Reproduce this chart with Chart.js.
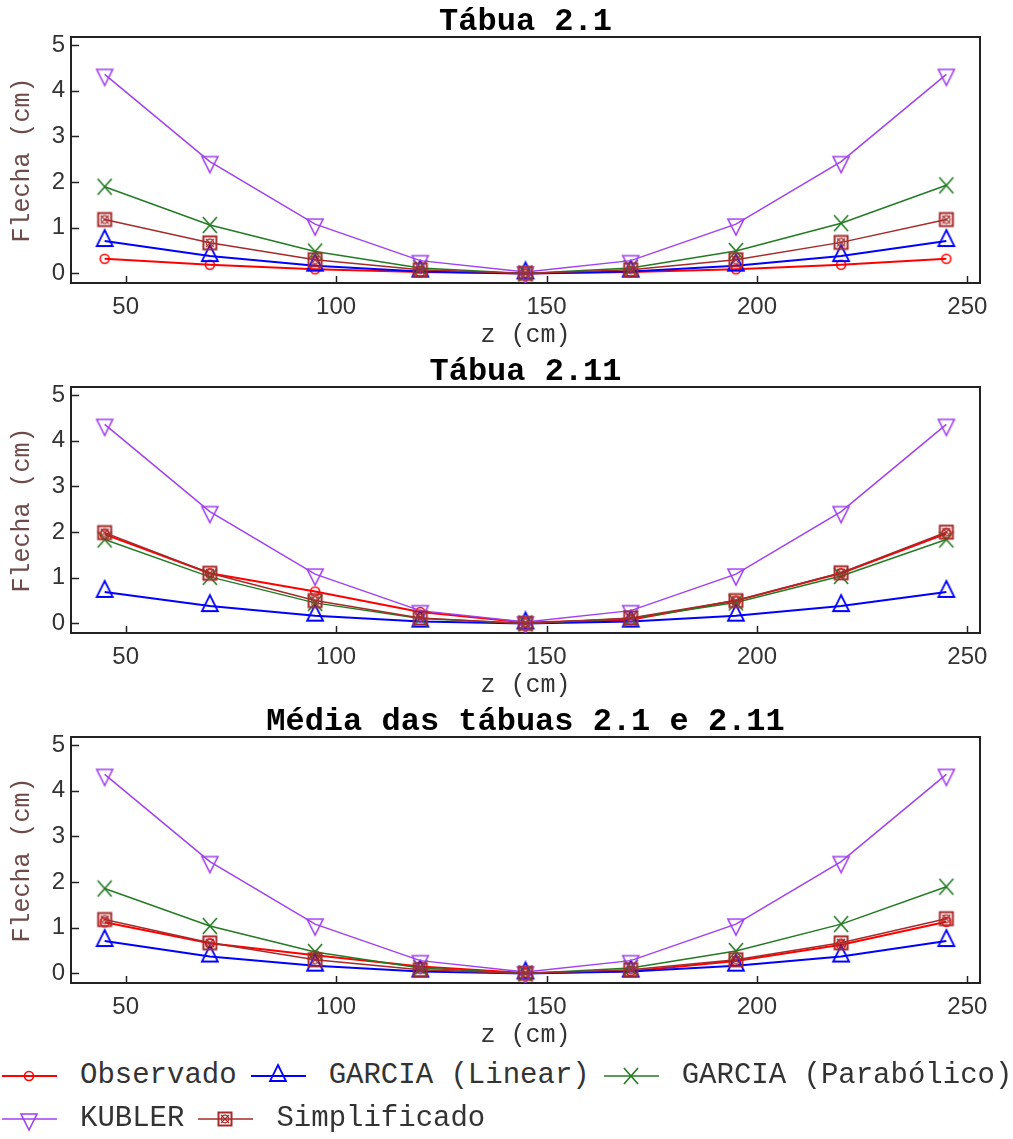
<!DOCTYPE html>
<html>
<head>
<meta charset="utf-8">
<script src="https://cdn.jsdelivr.net/npm/chart.js@4.4.0/dist/chart.umd.min.js"></script>
<style>
  body { margin: 0; background: #fff; width: 1013px; height: 1139px; overflow: hidden; position: relative; }
  canvas.plot { position: absolute; left: 0; }
  #legend { position: absolute; left: 0; top: 1054px; font: 29px 'Liberation Mono', monospace; color: #333; }
  .row { display: flex; align-items: center; height: 43px; white-space: nowrap; }
  .item { display: flex; align-items: center; margin-right: 12px; }
  .item canvas { margin-right: 22px; }
</style>
</head>
<body>
<canvas id="c1" class="plot" width="1013" height="350" style="top:0"></canvas>
<canvas id="c2" class="plot" width="1013" height="350" style="top:350px"></canvas>
<canvas id="c3" class="plot" width="1013" height="350" style="top:700px"></canvas>
<div id="legend"></div>
<script>
const zValues = [45, 70, 95, 120, 145, 170, 195, 220, 245];
const xTicks = [50, 100, 150, 200, 250];
const yTicks = [0, 1, 2, 3, 4, 5];
const seriesNames = ['Observado', 'GARCIA (Linear)', 'GARCIA (Parabólico)', 'KUBLER', 'Simplificado'];
const panelTitles = ['Tábua 2.1', 'Tábua 2.11', 'Média das tábuas 2.1 e 2.11'];

// Tábua 2.1
const obs21 = [0.32, 0.19, 0.09, 0.03, 0.00, 0.03, 0.09, 0.19, 0.32];
const lin21 = [0.71, 0.38, 0.17, 0.04, 0.00, 0.04, 0.17, 0.38, 0.71];
const par21 = [1.90, 1.06, 0.48, 0.12, 0.00, 0.12, 0.49, 1.10, 1.93];
const kub21 = [4.36, 2.45, 1.08, 0.28, 0.03, 0.28, 1.08, 2.45, 4.36];
const sim21 = [1.18, 0.67, 0.30, 0.08, 0.00, 0.08, 0.30, 0.68, 1.18];

// Tábua 2.11
const obs211 = [1.95, 1.10, 0.70, 0.25, 0.02, 0.08, 0.50, 1.10, 1.97];
const lin211 = [0.69, 0.38, 0.17, 0.04, 0.00, 0.04, 0.17, 0.38, 0.69];
const par211 = [1.84, 1.02, 0.45, 0.11, 0.00, 0.11, 0.46, 1.04, 1.84];
const kub211 = [4.36, 2.45, 1.08, 0.28, 0.03, 0.28, 1.08, 2.45, 4.36];
const sim211 = [1.99, 1.10, 0.50, 0.12, 0.00, 0.12, 0.50, 1.11, 2.00];

// Média das tábuas
const obsMed = [1.12, 0.66, 0.40, 0.15, 0.01, 0.05, 0.27, 0.63, 1.13];
const linMed = [0.71, 0.37, 0.17, 0.04, 0.00, 0.04, 0.17, 0.37, 0.71];
const parMed = [1.86, 1.04, 0.47, 0.12, 0.00, 0.12, 0.49, 1.08, 1.90];
const kubMed = [4.36, 2.45, 1.08, 0.28, 0.03, 0.28, 1.08, 2.45, 4.36];
const simMed = [1.18, 0.67, 0.30, 0.08, 0.00, 0.08, 0.30, 0.67, 1.20];

const seriesColors = ['#ff0000', '#0000ff', '#237a23', '#a040f0', '#a52a2a'];
const seriesWidths = [2, 2, 1.5, 1.5, 1.5];
const seriesMarkers = ['circle', 'triUp', 'cross', 'triDown', 'boxed'];

function makeMarker(kind, color) {
  const c = document.createElement('canvas');
  c.width = 26; c.height = 26;
  const g = c.getContext('2d');
  const m = 13;
  g.strokeStyle = color;
  g.lineWidth = 1.6;
  g.beginPath();
  if (kind === 'circle') {
    g.arc(m, m, 4.5, 0, Math.PI * 2);
  } else if (kind === 'triUp') {
    g.lineWidth = 1.8;
    g.moveTo(m, m - 11); g.lineTo(m + 8, m + 5); g.lineTo(m - 8, m + 5); g.closePath();
  } else if (kind === 'triDown') {
    g.moveTo(m - 8, m - 5); g.lineTo(m + 8, m - 5); g.lineTo(m, m + 11); g.closePath();
  } else if (kind === 'cross') {
    g.moveTo(m - 7, m - 8); g.lineTo(m + 7, m + 8);
    g.moveTo(m + 7, m - 8); g.lineTo(m - 7, m + 8);
  } else if (kind === 'boxed') {
    g.lineWidth = 2;
    g.rect(m - 6.5, m - 6.5, 13, 13);
    g.stroke();
    g.beginPath();
    g.lineWidth = 1.2;
    g.arc(m, m, 3.8, 0, Math.PI * 2);
    g.moveTo(m - 4, m - 4); g.lineTo(m + 4, m + 4);
    g.moveTo(m + 4, m - 4); g.lineTo(m - 4, m + 4);
  }
  g.stroke();
  return c;
}

const markerImages = seriesMarkers.map((k, i) => makeMarker(k, seriesColors[i]));

const framePlugin = {
  id: 'frame',
  beforeDatasetsDraw(chart) {
    const { ctx, chartArea: a, scales: { x, y } } = chart;
    ctx.save();
    ctx.strokeStyle = '#222';
    ctx.lineWidth = 2;
    ctx.strokeRect(a.left, a.top, a.right - a.left, a.bottom - a.top);
    ctx.lineWidth = 1.5;
    ctx.beginPath();
    y.ticks.forEach(t => {
      const p = Math.round(y.getPixelForValue(t.value)) + 0.5;
      ctx.moveTo(a.left, p); ctx.lineTo(a.left + 8, p);
    });
    x.ticks.forEach(t => {
      const p = Math.round(x.getPixelForValue(t.value)) + 0.5;
      ctx.moveTo(p, a.bottom); ctx.lineTo(p, a.bottom - 7);
    });
    ctx.stroke();
    ctx.restore();
  }
};

function buildChart(id, title, seriesList) {
  const datasets = seriesList.map((vals, i) => ({
    label: seriesNames[i],
    data: zValues.map((z, j) => ({ x: z, y: vals[j] })),
    borderColor: seriesColors[i],
    backgroundColor: seriesColors[i],
    borderWidth: seriesWidths[i],
    pointStyle: markerImages[i],
    pointRadius: 6,
    tension: 0,
    order: 5 - i
  }));

  new Chart(document.getElementById(id), {
    type: 'line',
    data: { datasets },
    plugins: [framePlugin],
    options: {
      responsive: false,
      animation: false,
      layout: { padding: { left: 0, right: 33, top: 0, bottom: 0 } },
      plugins: {
        legend: { display: false },
        tooltip: { enabled: false },
        title: {
          display: true,
          fullSize: false,
          text: title,
          color: '#000',
          font: { family: 'Liberation Mono', size: 32, weight: 'bold', lineHeight: 0.9375 },
          padding: { top: 7, bottom: 0 }
        }
      },
      scales: {
        x: {
          type: 'linear',
          min: 37,
          max: 253,
          grid: { display: false, drawTicks: false },
          border: { display: false },
          afterBuildTicks: s => { s.ticks = xTicks.map(v => ({ value: v })); },
          afterFit: s => { s.height = 67; },
          ticks: { color: '#333', padding: 10, font: { family: 'Liberation Sans', size: 24 } },
          title: {
            display: true,
            text: 'z (cm)',
            color: '#333',
            padding: 0,
            font: { family: 'Liberation Mono', size: 25 }
          }
        },
        y: {
          min: -0.21,
          max: 5.18,
          grid: { display: false, drawTicks: false },
          border: { display: false },
          afterBuildTicks: s => { s.ticks = yTicks.map(v => ({ value: v })); },
          afterFit: s => { s.width = 71; },
          ticks: { color: '#333', padding: 6, font: { family: 'Liberation Sans', size: 24 } },
          title: {
            display: true,
            text: 'Flecha (cm)',
            color: '#6e4a48',
            padding: { top: 7, bottom: 0 },
            font: { family: 'Liberation Mono', size: 25 }
          }
        }
      }
    }
  });
}

buildChart('c1', panelTitles[0], [obs21, lin21, par21, kub21, sim21]);
buildChart('c2', panelTitles[1], [obs211, lin211, par211, kub211, sim211]);
buildChart('c3', panelTitles[2], [obsMed, linMed, parMed, kubMed, simMed]);

// legend: line sample with marker, then the series name
const legendRows = [[0, 1, 2], [3, 4]];
const legendEl = document.getElementById('legend');
legendRows.forEach(row => {
  const rowEl = document.createElement('div');
  rowEl.className = 'row';
  row.forEach(i => {
    const item = document.createElement('div');
    item.className = 'item';
    const c = document.createElement('canvas');
    c.width = 58; c.height = 30;
    const g = c.getContext('2d');
    g.strokeStyle = seriesColors[i];
    g.lineWidth = seriesWidths[i];
    g.beginPath(); g.moveTo(2, 15); g.lineTo(57, 15); g.stroke();
    g.drawImage(markerImages[i], 29 - 13, 15 - 13);
    const span = document.createElement('span');
    span.textContent = seriesNames[i];
    item.appendChild(c);
    item.appendChild(span);
    rowEl.appendChild(item);
  });
  legendEl.appendChild(rowEl);
});
</script>
</body>
</html>
